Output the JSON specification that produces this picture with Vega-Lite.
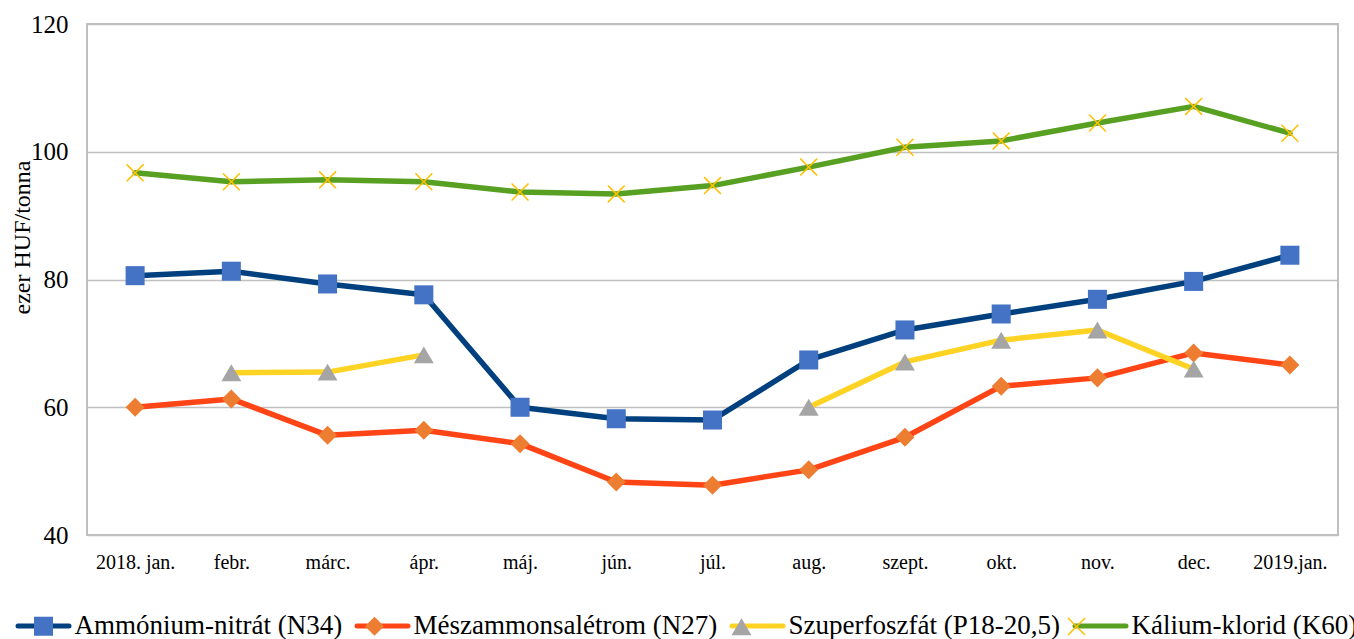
{
  "$schema": "https://vega.github.io/schema/vega-lite/v6.json",
  "width": 1251,
  "height": 511,
  "autosize": {"type": "none"},
  "padding": {"left": 87, "top": 24, "right": 16, "bottom": 104},
  "background": "white",
  "config": {
    "view": {"stroke": "#bfbfbf", "strokeWidth": 2},
    "font": "Times New Roman, Liberation Serif, DejaVu Serif, serif"
  },
  "data": {
    "values": [
      {"m": "2018. jan.", "s": "Ammónium-nitrát (N34)", "v": 80.6},
      {"m": "febr.", "s": "Ammónium-nitrát (N34)", "v": 81.3},
      {"m": "márc.", "s": "Ammónium-nitrát (N34)", "v": 79.3},
      {"m": "ápr.", "s": "Ammónium-nitrát (N34)", "v": 77.6},
      {"m": "máj.", "s": "Ammónium-nitrát (N34)", "v": 60.0},
      {"m": "jún.", "s": "Ammónium-nitrát (N34)", "v": 58.2},
      {"m": "júl.", "s": "Ammónium-nitrát (N34)", "v": 58.0},
      {"m": "aug.", "s": "Ammónium-nitrát (N34)", "v": 67.4},
      {"m": "szept.", "s": "Ammónium-nitrát (N34)", "v": 72.1},
      {"m": "okt.", "s": "Ammónium-nitrát (N34)", "v": 74.6},
      {"m": "nov.", "s": "Ammónium-nitrát (N34)", "v": 76.9},
      {"m": "dec.", "s": "Ammónium-nitrát (N34)", "v": 79.7},
      {"m": "2019.jan.", "s": "Ammónium-nitrát (N34)", "v": 83.8},
      {"m": "2018. jan.", "s": "Mészammonsalétrom (N27)", "v": 60.0},
      {"m": "febr.", "s": "Mészammonsalétrom (N27)", "v": 61.3},
      {"m": "márc.", "s": "Mészammonsalétrom (N27)", "v": 55.6},
      {"m": "ápr.", "s": "Mészammonsalétrom (N27)", "v": 56.4},
      {"m": "máj.", "s": "Mészammonsalétrom (N27)", "v": 54.3},
      {"m": "jún.", "s": "Mészammonsalétrom (N27)", "v": 48.3},
      {"m": "júl.", "s": "Mészammonsalétrom (N27)", "v": 47.8},
      {"m": "aug.", "s": "Mészammonsalétrom (N27)", "v": 50.2},
      {"m": "szept.", "s": "Mészammonsalétrom (N27)", "v": 55.3},
      {"m": "okt.", "s": "Mészammonsalétrom (N27)", "v": 63.3},
      {"m": "nov.", "s": "Mészammonsalétrom (N27)", "v": 64.6},
      {"m": "dec.", "s": "Mészammonsalétrom (N27)", "v": 68.5},
      {"m": "2019.jan.", "s": "Mészammonsalétrom (N27)", "v": 66.6},
      {"m": "2018. jan.", "s": "Szuperfoszfát (P18-20,5)", "v": null},
      {"m": "febr.", "s": "Szuperfoszfát (P18-20,5)", "v": 65.4},
      {"m": "márc.", "s": "Szuperfoszfát (P18-20,5)", "v": 65.5},
      {"m": "ápr.", "s": "Szuperfoszfát (P18-20,5)", "v": 68.2},
      {"m": "máj.", "s": "Szuperfoszfát (P18-20,5)", "v": null},
      {"m": "jún.", "s": "Szuperfoszfát (P18-20,5)", "v": null},
      {"m": "júl.", "s": "Szuperfoszfát (P18-20,5)", "v": null},
      {"m": "aug.", "s": "Szuperfoszfát (P18-20,5)", "v": 60.0},
      {"m": "szept.", "s": "Szuperfoszfát (P18-20,5)", "v": 67.1},
      {"m": "okt.", "s": "Szuperfoszfát (P18-20,5)", "v": 70.5},
      {"m": "nov.", "s": "Szuperfoszfát (P18-20,5)", "v": 72.1},
      {"m": "dec.", "s": "Szuperfoszfát (P18-20,5)", "v": 66.0},
      {"m": "2019.jan.", "s": "Szuperfoszfát (P18-20,5)", "v": null},
      {"m": "2018. jan.", "s": "Kálium-klorid (K60)", "v": 96.7},
      {"m": "febr.", "s": "Kálium-klorid (K60)", "v": 95.3},
      {"m": "márc.", "s": "Kálium-klorid (K60)", "v": 95.6},
      {"m": "ápr.", "s": "Kálium-klorid (K60)", "v": 95.3},
      {"m": "máj.", "s": "Kálium-klorid (K60)", "v": 93.7},
      {"m": "jún.", "s": "Kálium-klorid (K60)", "v": 93.4},
      {"m": "júl.", "s": "Kálium-klorid (K60)", "v": 94.7},
      {"m": "aug.", "s": "Kálium-klorid (K60)", "v": 97.6},
      {"m": "szept.", "s": "Kálium-klorid (K60)", "v": 100.7},
      {"m": "okt.", "s": "Kálium-klorid (K60)", "v": 101.7},
      {"m": "nov.", "s": "Kálium-klorid (K60)", "v": 104.5},
      {"m": "dec.", "s": "Kálium-klorid (K60)", "v": 107.1},
      {"m": "2019.jan.", "s": "Kálium-klorid (K60)", "v": 102.9}
    ]
  },
  "encoding": {
    "x": {
      "field": "m",
      "type": "ordinal",
      "sort": ["2018. jan.", "febr.", "márc.", "ápr.", "máj.", "jún.", "júl.", "aug.", "szept.", "okt.", "nov.", "dec.", "2019.jan."],
      "scale": {"type": "point", "padding": 0.5},
      "axis": {
        "title": null,
        "domain": false,
        "ticks": false,
        "grid": false,
        "labelAngle": 0,
        "labelFont": "Times New Roman, Liberation Serif, DejaVu Serif, serif",
        "labelFontSize": 20,
        "labelColor": "#000000",
        "labelPadding": 17
      }
    },
    "y": {
      "field": "v",
      "type": "quantitative",
      "scale": {"domain": [40, 120], "nice": false, "zero": false},
      "axis": {
        "values": [40, 60, 80, 100, 120],
        "title": "ezer HUF/tonna",
        "titleFont": "Times New Roman, Liberation Serif, DejaVu Serif, serif",
        "titleFontSize": 24,
        "titleFontWeight": "normal",
        "titleColor": "#000000",
        "titleAngle": 270,
        "titleAlign": "center",
        "titleBaseline": "alphabetic",
        "titleX": -58,
        "titleY": 213,
        "domain": false,
        "ticks": false,
        "grid": true,
        "gridColor": "#c0c0c0",
        "gridWidth": 1.5,
        "labelFont": "Times New Roman, Liberation Serif, DejaVu Serif, serif",
        "labelFontSize": 25,
        "labelColor": "#000000",
        "labelPadding": 19
      }
    }
  },
  "layer": [
    {
      "mark": {"type": "line", "strokeWidth": 5.5, "strokeCap": "round", "strokeJoin": "round", "invalid": "break-paths-filter-domains"},
      "encoding": {
        "stroke": {
          "field": "s",
          "type": "nominal",
          "scale": {
            "domain": ["Ammónium-nitrát (N34)", "Mészammonsalétrom (N27)", "Szuperfoszfát (P18-20,5)", "Kálium-klorid (K60)"],
            "range": ["#00407f", "#ff4516", "#ffd324", "#58a022"]
          },
          "legend": {
            "title": null,
            "orient": "none",
            "legendX": -71.5,
            "legendY": 574,
            "direction": "horizontal",
            "columns": 4,
            "padding": 0,
            "symbolType": "stroke",
            "symbolSize": 2601,
            "symbolStrokeWidth": 5,
            "labelFont": "Times New Roman, Liberation Serif, DejaVu Serif, serif",
            "labelFontSize": 27,
            "labelColor": "#000000",
            "labelOffset": 3,
            "labelLimit": 500,
            "columnPadding": 4,
            "encode": {"symbols": {"update": {"strokeCap": {"value": "round"}}}}
          }
        }
      }
    },
    {
      "mark": {"type": "point", "filled": true, "opacity": 1, "size": 2601, "strokeWidth": 0},
      "encoding": {
        "fill": {
          "field": "s",
          "type": "nominal",
          "sort": null,
          "scale": {"range": ["#4472c4", "#ed7d31", "#a5a5a5", "#ffc000"]},
          "legend": {
            "title": null,
            "orient": "none",
            "legendX": -71.5,
            "legendY": 574,
            "direction": "horizontal",
            "columns": 4,
            "padding": 0,
            "symbolSize": 2601,
            "symbolStrokeWidth": 5,
            "symbolStrokeColor": "transparent",
            "symbolOpacity": 1,
            "labelFont": "Times New Roman, Liberation Serif, DejaVu Serif, serif",
            "labelFontSize": 27,
            "labelOpacity": 0,
            "labelOffset": 3,
            "labelLimit": 500,
            "columnPadding": 4
          }
        },
        "shape": {
          "field": "s",
          "type": "nominal",
          "sort": null,
          "scale": {
            "range": [
              "M-0.373,-0.373L0.373,-0.373L0.373,0.373L-0.373,0.373Z",
              "M0,-0.373L0.373,0L0,0.373L-0.373,0Z",
              "M0,-0.333L0.39,0.333L-0.39,0.333Z",
              "M-0.353,-0.31L-0.31,-0.353L0,-0.043L0.31,-0.353L0.353,-0.31L0.043,0L0.353,0.31L0.31,0.353L0,0.043L-0.31,0.353L-0.353,0.31L-0.043,0Z"
            ]
          }
        }
      }
    }
  ]
}
